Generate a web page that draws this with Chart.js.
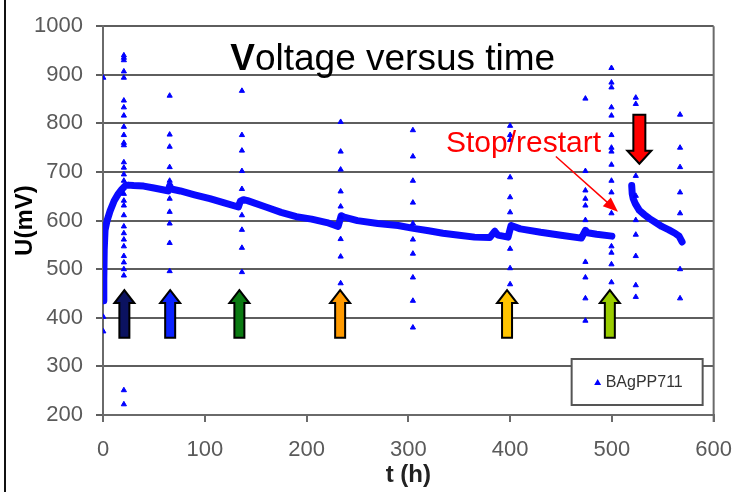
<!DOCTYPE html>
<html>
<head>
<meta charset="UTF-8">
<title>Voltage versus time</title>
<script src="https://cdn.jsdelivr.net/npm/chart.js@4.4.1/dist/chart.umd.min.js"></script>
<style>
  body { margin: 0; background: #ffffff; }
</style>
</head>
<body>
<canvas id="chart" width="747" height="492"></canvas>
<script>
// main recording (dense band)
const curveT = [0.5, 0.8, 1.2, 2, 4, 7, 11, 15, 18, 22, 25, 30, 40, 50, 60, 64, 65.5, 67, 76, 90, 105, 120, 133, 135, 138, 142,
  160, 175, 190, 205, 220, 231, 234, 237, 250, 270, 290, 305, 320, 334, 350, 365, 380, 385, 388, 398, 401, 410, 430, 450, 470,
  474, 476, 485, 500];
const curveU = [435, 480, 540, 580, 600, 620, 641, 655, 663, 672, 673, 672, 671, 667, 663, 661, 672, 665, 661, 653, 645, 636, 628, 640, 643, 641,
  628, 617, 608, 603, 596, 588, 610, 607, 600, 594, 590, 584, 579, 574, 570, 566, 565, 578, 570, 566, 590, 583, 576, 570, 564,
  580, 575, 572, 568];

// after the stop/restart
const restartT = [519.5, 520, 521, 523, 527, 532, 537, 543, 549, 556, 562, 566, 569];
const restartU = [672, 655, 645, 635, 621, 612, 604, 596, 588, 581, 574, 568, 556];

// scattered readings
const spikeT = [0.3, 20.5, 65.5, 136.5, 233.5, 304.5, 400, 474, 499.6, 523.5, 567];
const spikeU = [
  [894, 402, 372],
  [940, 935, 930, 907, 894, 847, 833, 816, 793, 776, 760, 755, 720, 709, 695, 682, 655, 641, 631, 611, 588, 574, 561, 547, 527, 514, 500, 487, 251, 222],
  [857, 777, 752, 710, 682, 645, 618, 594, 554, 496],
  [867, 776, 744, 702, 665, 611, 581, 544, 494],
  [803, 742, 705, 660, 629, 608, 562, 526, 471],
  [786, 732, 682, 637, 594, 561, 532, 483, 435, 380],
  [795, 776, 766, 689, 648, 617, 542, 502, 469],
  [851, 702, 662, 645, 631, 601, 515, 483, 440, 394],
  [914, 884, 874, 833, 816, 776, 750, 742, 715, 682, 658, 631, 615, 547, 534, 510, 473],
  [853, 840, 692, 651, 601, 571, 527, 467, 443],
  [818, 750, 710, 658, 615, 500, 440]
];

const seriesName = 'BAgPP711';
const arrowT = [21, 66, 134, 233, 397, 498];
const arrowColors = ['#0b1260', '#0a22ff', '#0b7a12', '#ff9a00', '#ffc400', '#99cc00'];
const arrowU = [359, 457];
const stopT = 527;
const stopU = [818, 717];

function pairs(xs, ys) {
  return xs.map((x, i) => ({ x: x, y: ys[i] }));
}

const spikePoints = [];
spikeT.forEach((t, i) => {
  spikeU[i].forEach(u => spikePoints.push({ x: t, y: u }));
});

const FONT = '"Liberation Sans", Arial, sans-serif';

function arrowPath(ctx, cx, yTip, yTail, shaftW, headW, headL) {
  const d = yTail > yTip ? 1 : -1;
  const yb = yTip + d * headL;
  ctx.beginPath();
  ctx.moveTo(cx, yTip);
  ctx.lineTo(cx + headW / 2, yb);
  ctx.lineTo(cx + shaftW / 2, yb);
  ctx.lineTo(cx + shaftW / 2, yTail);
  ctx.lineTo(cx - shaftW / 2, yTail);
  ctx.lineTo(cx - shaftW / 2, yb);
  ctx.lineTo(cx - headW / 2, yb);
  ctx.closePath();
}

const extras = {
  id: 'extras',
  beforeDraw(chart) {
    const ctx = chart.ctx;
    ctx.save();
    ctx.fillStyle = '#111';
    ctx.fillRect(4, 0, 2, chart.height);
    ctx.restore();
  },
  afterDraw(chart) {
    const ctx = chart.ctx;
    const xs = chart.scales.x, ys = chart.scales.y;
    const area = chart.chartArea;
    ctx.save();

    // right border of the plot
    ctx.strokeStyle = '#6a6a6a';
    ctx.lineWidth = 2;
    ctx.beginPath();
    ctx.moveTo(area.right, area.top);
    ctx.lineTo(area.right, area.bottom + 7);
    ctx.stroke();

    // title inside the plot
    ctx.fillStyle = '#000';
    ctx.textBaseline = 'alphabetic';
    ctx.textAlign = 'left';
    const tx = xs.getPixelForValue(125), ty = ys.getPixelForValue(909);
    ctx.font = 'bold 37px ' + FONT;
    ctx.fillText('V', tx, ty);
    const vw = ctx.measureText('V').width;
    ctx.font = '37px ' + FONT;
    ctx.fillText('oltage versus time', tx + vw, ty);

    // coloured up arrows
    ctx.lineWidth = 2;
    ctx.strokeStyle = '#000';
    arrowT.forEach((t, i) => {
      const cx = xs.getPixelForValue(t);
      arrowPath(ctx, cx, ys.getPixelForValue(arrowU[1]), ys.getPixelForValue(arrowU[0]), 10, 20, 13);
      ctx.fillStyle = arrowColors[i];
      ctx.fill();
      ctx.stroke();
    });

    // red down arrow
    arrowPath(ctx, xs.getPixelForValue(stopT), ys.getPixelForValue(stopU[1]), ys.getPixelForValue(stopU[0]), 12, 24, 13);
    ctx.fillStyle = '#ff0000';
    ctx.fill();
    ctx.stroke();

    // Stop/restart label and pointer
    ctx.fillStyle = '#ff0000';
    ctx.font = '30px ' + FONT;
    ctx.fillText('Stop/restart', xs.getPixelForValue(337), ys.getPixelForValue(742));
    const x0 = xs.getPixelForValue(445), y0 = ys.getPixelForValue(732);
    const x1 = xs.getPixelForValue(506), y1 = ys.getPixelForValue(618);
    const ang = Math.atan2(y1 - y0, x1 - x0);
    ctx.strokeStyle = '#ff0000';
    ctx.lineWidth = 1.5;
    ctx.beginPath();
    ctx.moveTo(x0, y0);
    ctx.lineTo(x1 - 12 * Math.cos(ang), y1 - 12 * Math.sin(ang));
    ctx.stroke();
    ctx.beginPath();
    ctx.moveTo(x1, y1);
    ctx.lineTo(x1 - 15 * Math.cos(ang) + 6 * Math.sin(ang), y1 - 15 * Math.sin(ang) - 6 * Math.cos(ang));
    ctx.lineTo(x1 - 15 * Math.cos(ang) - 6 * Math.sin(ang), y1 - 15 * Math.sin(ang) + 6 * Math.cos(ang));
    ctx.closePath();
    ctx.fill();

    // legend box
    const lx = area.right - 142, ly = area.bottom - 56;
    ctx.fillStyle = '#fff';
    ctx.fillRect(lx, ly, 131, 46);
    ctx.strokeStyle = '#555';
    ctx.lineWidth = 2;
    ctx.strokeRect(lx, ly, 131, 46);
    ctx.fillStyle = '#0000ff';
    ctx.beginPath();
    ctx.moveTo(lx + 26, ly + 20);
    ctx.lineTo(lx + 29.5, ly + 26);
    ctx.lineTo(lx + 22.5, ly + 26);
    ctx.closePath();
    ctx.fill();
    ctx.fillStyle = '#333';
    ctx.font = '16px ' + FONT;
    ctx.textBaseline = 'middle';
    ctx.fillText(seriesName, lx + 34, ly + 24);

    ctx.restore();
  }
};

new Chart(document.getElementById('chart'), {
  type: 'scatter',
  data: {
    datasets: [
      {
        label: seriesName,
        data: spikePoints,
        pointStyle: 'triangle',
        pointRadius: 3,
        backgroundColor: '#0000ff',
        borderColor: '#0000ff',
        borderWidth: 1
      },
      {
        label: seriesName,
        data: pairs(curveT, curveU),
        showLine: true,
        pointRadius: 0,
        borderColor: '#0a0aff',
        borderWidth: 7,
        borderJoinStyle: 'round',
        borderCapStyle: 'round'
      },
      {
        label: seriesName,
        data: pairs(restartT, restartU),
        showLine: true,
        pointRadius: 0,
        borderColor: '#0a0aff',
        borderWidth: 7,
        borderJoinStyle: 'round',
        borderCapStyle: 'round'
      }
    ]
  },
  options: {
    responsive: false,
    animation: false,
    layout: { padding: { top: 19, right: 21, left: 0, bottom: 0 } },
    plugins: { legend: { display: false }, tooltip: { enabled: false } },
    scales: {
      x: {
        type: 'linear',
        min: 0,
        max: 600,
        afterFit: s => { s.height = 77; },
        ticks: { stepSize: 100, padding: 15, color: '#5a5a5a', font: { family: FONT, size: 22 }, callback: v => String(v) },
        grid: { drawOnChartArea: false, drawTicks: true, tickLength: 7, color: '#6a6a6a', lineWidth: 2 },
        border: { display: true, color: '#6a6a6a', width: 2 },
        title: { display: true, text: 't (h)', color: '#222', padding: { top: 0, bottom: 2 }, font: { family: FONT, size: 24, weight: 'bold' } }
      },
      y: {
        min: 200,
        max: 1000,
        afterFit: s => { s.width = 103; },
        ticks: { stepSize: 100, padding: 13, color: '#5a5a5a', font: { family: FONT, size: 22 }, callback: v => String(v) },
        grid: { color: '#5e5e5e', lineWidth: 2, tickLength: 7 },
        border: { display: true, color: '#6a6a6a', width: 2 },
        title: { display: true, text: 'U(mV)', color: '#000', padding: { top: 11, bottom: 0 }, font: { family: FONT, size: 24, weight: 'bold' } }
      }
    }
  },
  plugins: [extras]
});
</script>
</body>
</html>
